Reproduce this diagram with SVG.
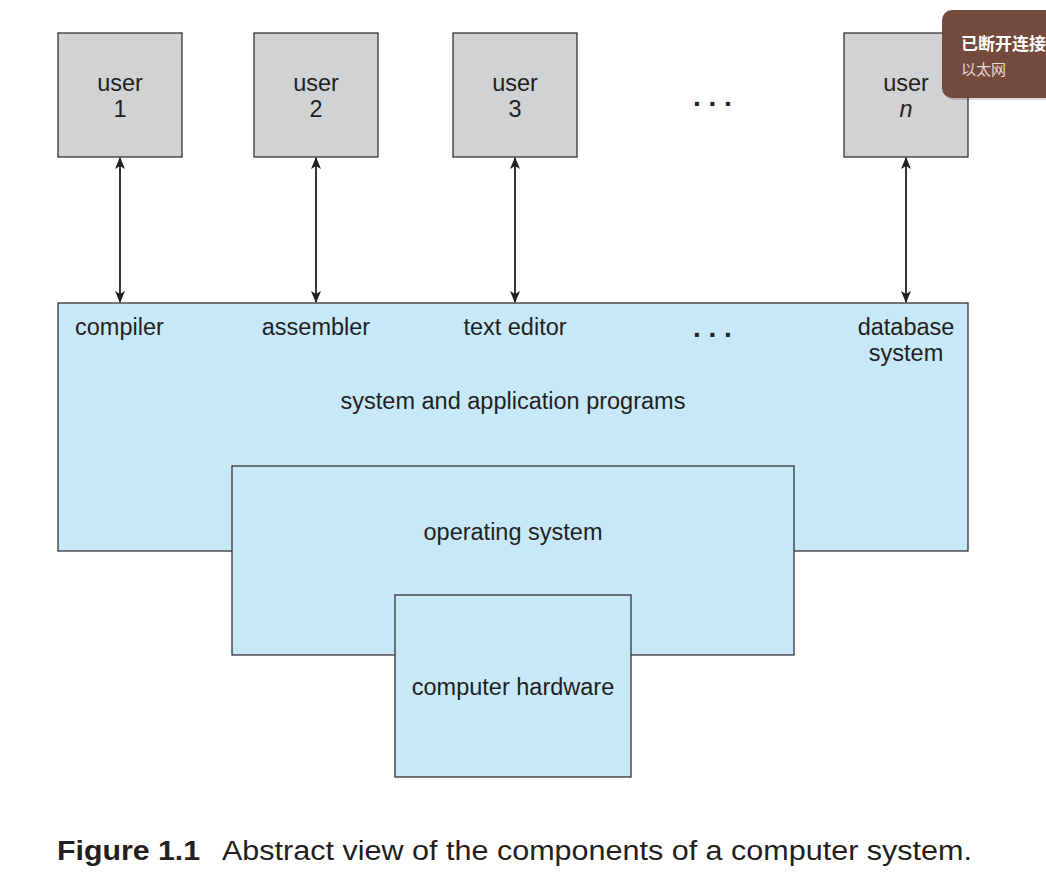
<svg xmlns="http://www.w3.org/2000/svg" width="1046" height="890" viewBox="0 0 1046 890">
<style>
.user{fill:#d1d2d4;stroke:#333;stroke-width:1.3}
.blue{fill:#c7e8f8;stroke:#333;stroke-width:1.3}
.t{font-family:"Liberation Sans",Arial,sans-serif;font-size:23.5px;fill:#231f20;text-anchor:middle}
.tl{font-family:"Liberation Sans",Arial,sans-serif;font-size:23.5px;fill:#231f20}
.dots{font-family:"Liberation Sans",Arial,sans-serif;font-size:28px;fill:#231f20;font-weight:bold}
.conn{stroke:#231f20;stroke-width:1.8;fill:none;marker-start:url(#ah);marker-end:url(#ah)}
</style>
<defs>
<marker id="ah" viewBox="0 0 12 10" refX="11" refY="5" markerWidth="12" markerHeight="10" orient="auto-start-reverse" markerUnits="userSpaceOnUse">
<path d="M0,0 L12,5 L0,10 L3,5 Z" fill="#231f20"/>
</marker>
</defs>
<rect width="1046" height="890" fill="#ffffff"/>

<g id="user1"><rect class="user" x="58" y="33" width="124" height="124"/><text class="t" x="120" y="91">user</text><text class="t" x="120" y="117">1</text></g>
<g id="user2"><rect class="user" x="254" y="33" width="124" height="124"/><text class="t" x="316" y="91">user</text><text class="t" x="316" y="117">2</text></g>
<g id="user3"><rect class="user" x="453" y="33" width="124" height="124"/><text class="t" x="515" y="91">user</text><text class="t" x="515" y="117">3</text></g>
<g id="dots-top"><text class="dots" x="693" y="106">. . .</text></g>
<g id="usern"><rect class="user" x="844" y="33" width="124" height="124"/><text class="t" x="906" y="91">user</text><text class="t" x="906" y="117" font-style="italic">n</text></g>

<g id="apps"><rect class="blue" x="58" y="303" width="910" height="248"/>
<text class="tl" x="75" y="335">compiler</text>
<text class="t" x="316" y="335">assembler</text>
<text class="t" x="515" y="335">text editor</text>
<text class="dots" x="693" y="337">. . .</text>
<text class="t" x="906" y="335">database</text>
<text class="t" x="906" y="361">system</text>
<text class="t" x="513" y="409">system and application programs</text>
</g>

<g id="os"><rect class="blue" x="232" y="466" width="562" height="189"/><text class="t" x="513" y="540">operating system</text></g>
<g id="hardware"><rect class="blue" x="395" y="595" width="236" height="182"/><text class="t" x="513" y="695">computer hardware</text></g>

<g id="connectors">
<line class="conn" x1="120" y1="158" x2="120" y2="302"/>
<line class="conn" x1="316" y1="158" x2="316" y2="302"/>
<line class="conn" x1="515" y1="158" x2="515" y2="302"/>
<line class="conn" x1="906" y1="158" x2="906" y2="302"/>
</g>

<g id="caption">
<text x="57" y="860" font-family="'Liberation Sans',Arial,sans-serif" font-size="27" fill="#231f20"><tspan font-weight="bold" textLength="143" lengthAdjust="spacingAndGlyphs">Figure 1.1</tspan><tspan x="222" textLength="750" lengthAdjust="spacingAndGlyphs">Abstract view of the components of a computer system.</tspan></text>
</g>

<g id="notification">
<rect x="944" y="12" width="120" height="88" rx="10" fill="#000" opacity="0.15"/>
<rect x="942" y="10" width="120" height="88" rx="10" fill="#744a3d"/>
<text x="961" y="50" font-family="'Noto Sans CJK SC',sans-serif" font-size="17" font-weight="bold" fill="#ffffff">已断开连接</text>
<text x="961" y="75" font-family="'Noto Sans CJK SC',sans-serif" font-size="15" fill="#e6d8d2">以太网</text>
</g>
</svg>
